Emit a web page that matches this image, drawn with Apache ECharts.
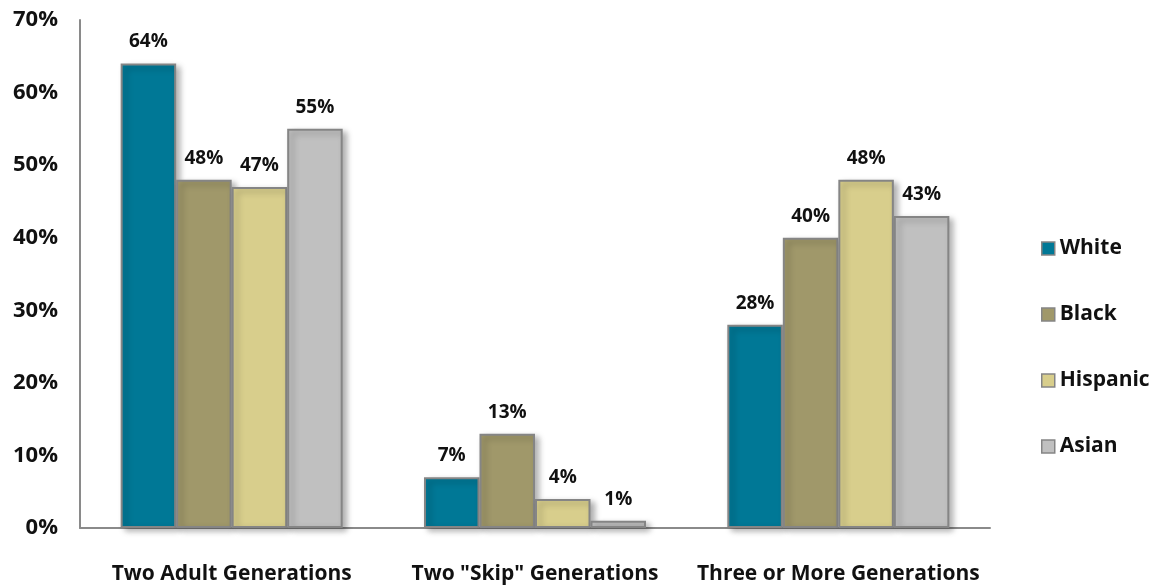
<!DOCTYPE html>
<html>
<head>
<meta charset="utf-8">
<script src="https://cdn.jsdelivr.net/npm/echarts@6/dist/echarts.min.js"></script>
<style>
  html, body { margin: 0; padding: 0; background: #fff; }
  #chart { width: 1156px; height: 586px; }
</style>
</head>
<body>
<div id="chart"></div>
<script>
const categories = ['Two Adult Generations', 'Two "Skip" Generations', 'Three or More Generations'];
const groupNames = ['White', 'Black', 'Hispanic', 'Asian'];
const white = [64, 7, 28];
const black = [48, 13, 40];
const hispanic = [47, 4, 48];
const asian = [55, 1, 43];
const colors = ['#007896', '#A0986A', '#D8CE8C', '#C0C0C0'];

const font = '"Open Sans", "Noto Sans", sans-serif';

function makeSeries(name, data, color) {
  return {
    name: name,
    type: 'bar',
    data: data,
    barWidth: '18.3%',
    barGap: '0%',
    itemStyle: {
      color: color,
      borderColor: '#858585',
      borderWidth: 2,
      shadowColor: 'rgba(0,0,0,0.3)',
      shadowBlur: 6,
      shadowOffsetX: 4,
      shadowOffsetY: 3
    },
    label: {
      show: true,
      position: 'top',
      distance: 12,
      formatter: '{c}%',
      color: '#111',
      fontFamily: font,
      fontWeight: 'bold',
      fontSize: 19
    }
  };
}

const myChart = echarts.init(document.getElementById('chart'));
const option = {
  animation: false,
  grid: {
    left: 80,
    right: 166,
    top: 20,
    bottom: 58
  },
  legend: {
    orient: 'vertical',
    left: 1036,
    top: 233,
    itemGap: 45,
    itemWidth: 13,
    itemHeight: 13,
    icon: 'rect',
    data: groupNames,
    textStyle: {
      fontFamily: font,
      fontWeight: 'bold',
      fontSize: 21,
      color: '#111'
    },
    itemStyle: {
      borderColor: '#858585',
      borderWidth: 1.5,
      shadowBlur: 0,
      shadowOffsetX: 0,
      shadowOffsetY: 0
    }
  },
  xAxis: {
    type: 'category',
    data: categories,
    axisLine: { lineStyle: { color: '#8a8a8a', width: 2 } },
    axisTick: { show: false },
    axisLabel: {
      margin: 36,
      fontFamily: font,
      fontWeight: 'bold',
      fontSize: 21,
      color: '#111',
      interval: 0
    }
  },
  yAxis: {
    type: 'value',
    min: 0,
    max: 70,
    interval: 10,
    axisLine: { show: true, lineStyle: { color: '#8a8a8a', width: 2 } },
    axisTick: { show: false },
    splitLine: { show: false },
    axisLabel: {
      formatter: '{value}%',
      margin: 22,
      fontFamily: font,
      fontWeight: 'bold',
      fontSize: 22,
      color: '#111'
    }
  },
  series: [
    makeSeries(groupNames[0], white, colors[0]),
    makeSeries(groupNames[1], black, colors[1]),
    makeSeries(groupNames[2], hispanic, colors[2]),
    makeSeries(groupNames[3], asian, colors[3])
  ]
};
myChart.setOption(option);
</script>
</body>
</html>
